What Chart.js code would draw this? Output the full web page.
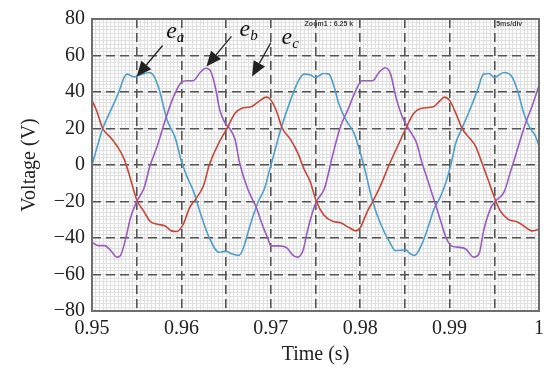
<!DOCTYPE html>
<html lang="en">
<head>
<meta charset="UTF-8">
<title>Voltage</title>
<script src="https://cdn.jsdelivr.net/npm/chart.js"></script>
<style>
  html, body { margin: 0; padding: 0; background: #fff; }
  #wrap { width: 550px; height: 370px; }
</style>
</head>
<body>
<div id="wrap"><canvas id="grafico" width="550" height="370"></canvas></div>
<script>
// e_a (azul): tiempo (s) / tension (V)
const eaTime = [0.9500,0.9507,0.9512,0.9521,0.9530,0.9536,0.9539,0.9547,0.9554,0.9564,0.9569,0.9575,0.9584,0.9593,0.9600,0.9606,0.9614,0.9621,0.9631,0.9642,0.9649,0.9656,0.9664,0.9669,0.9676,0.9682,0.9686,0.9693,0.9698,0.9704,0.9711,0.9722,0.9731,0.9737,0.9744,0.9750,0.9759,0.9765,0.9771,0.9776,0.9784,0.9793,0.9799,0.9805,0.9814,0.9823,0.9834,0.9839,0.9851,0.9856,0.9861,0.9869,0.9876,0.9883,0.9889,0.9896,0.9902,0.9907,0.9914,0.9924,0.9931,0.9938,0.9944,0.9950,0.9961,0.9969,0.9976,0.9983,0.9989,0.9996,1.0000];
const eaVolt = [0,12,20,30,40,48,49.8,48.3,49.4,50.7,49,41.7,24.7,15,2,-6,-15,-26,-39.7,-47.8,-47.2,-48.6,-49.5,-46,-34.4,-25.4,-20,-12.9,-3.9,6.8,19.3,35.4,46.2,49.8,49.4,48,50.1,49.8,42.6,33.7,24.7,17.6,8.6,-2.1,-20,-32.5,-43.3,-46.9,-46.5,-48.6,-49.5,-43.3,-34,-23.6,-18.2,-9.3,1.4,12.2,20.2,31.9,40.8,49.8,50.1,48,50.7,48.9,40.8,28.3,21.1,15.8,10.4];

// e_b (morado)
const ebTime = [0.9500,0.9507,0.9514,0.9521,0.9528,0.9532,0.9538,0.9543,0.9550,0.9558,0.9565,0.9573,0.9582,0.9591,0.9600,0.9606,0.9613,0.9621,0.9627,0.9632,0.9638,0.9643,0.9649,0.9654,0.9660,0.9665,0.9674,0.9684,0.9691,0.9697,0.9700,0.9708,0.9717,0.9725,0.9730,0.9736,0.9741,0.9746,0.9751,0.9760,0.9769,0.9778,0.9786,0.9795,0.9802,0.9814,0.9821,0.9828,0.9834,0.9840,0.9847,0.9854,0.9863,0.9869,0.9874,0.9882,0.9889,0.9896,0.9902,0.9909,0.9918,0.9927,0.9933,0.9938,0.9946,0.9951,0.9961,0.9968,0.9977,0.9985,0.9992,1.0000];
const ebVolt = [-42.4,-44.2,-44.2,-46.9,-50.5,-49.5,-39.7,-29,-20,-12.9,-0.3,10.4,24.7,37.2,45.3,46.2,46.2,50.7,53,52,42.6,30,22.9,20,14,1.4,-12.9,-23.6,-33.4,-40.6,-44.3,-44.3,-45.1,-49.5,-50.5,-46.9,-36.1,-27,-20,-12.9,5,21.1,30,40.8,46.2,46.2,50.7,53.3,49.8,37.2,26.5,20,12.2,1.4,-6,-18.2,-29,-39.7,-44.3,-45,-46,-50.5,-48.6,-36.1,-23.6,-20,-14.7,-3.9,10.4,22.9,31.9,43.5];

// e_c (rojo)
const ecTime = [0.9500,0.9505,0.9512,0.9521,0.9528,0.9536,0.9543,0.9550,0.9558,0.9565,0.9573,0.9582,0.9589,0.9595,0.9602,0.9609,0.9617,0.9625,0.9631,0.9642,0.9651,0.9660,0.9667,0.9678,0.9686,0.9695,0.9699,0.9706,0.9713,0.9722,0.9730,0.9737,0.9744,0.9751,0.9759,0.9769,0.9778,0.9788,0.9795,0.9800,0.9808,0.9814,0.9823,0.9832,0.9842,0.9851,0.9860,0.9868,0.9882,0.9889,0.9894,0.9900,0.9907,0.9914,0.9922,0.9929,0.9936,0.9944,0.9951,0.9957,0.9966,0.9976,0.9983,0.9992,1.0000];
const ecVolt = [35.4,30,20,14.9,10.4,3.2,-7.5,-19,-25.4,-30.8,-32.5,-33.4,-36.1,-36.4,-32.5,-23.6,-18,-11,-0.3,12.2,20,28.3,31,31.9,34.6,37.2,36.3,30,20,14,6.8,-2,-9,-20,-27.2,-30.8,-31.7,-34.4,-36.1,-34.4,-25.4,-20,-11,-0.3,10.4,20,28.3,31,31.9,35.1,37.2,35.4,28.3,20,14.9,10.4,1.4,-9.3,-19,-25.4,-29.9,-31.2,-33.4,-36.1,-35.2];

const xTicks = [0.95,0.955,0.96,0.965,0.97,0.975,0.98,0.985,0.99,0.995,1];
const xLabels = ['0.95','','0.96','','0.97','','0.98','','0.99','','1'];
const yTicks = [-80,-60,-40,-20,0,20,40,60,80];
const yLabels = ['\u221280','\u221260','\u221240','\u221220','0','20','40','60','80'];

// rejilla fina del osciloscopio
const minorX = [];
for (let i = 0; i <= 120; i++) minorX.push(0.95 + i * 0.05 / 120);
const minorY = [];
for (let v = -80; v <= 80; v += 2) minorY.push(v);

// flechas y etiquetas (en unidades de los ejes)
const flechas = [
  { name: 'a', tx: 0.9583, ty: 69.5, x0: 0.9579, y0: 65.5, x1: 0.9550, y1: 48.5 },
  { name: 'b', tx: 0.9665, ty: 70.5, x0: 0.9656, y0: 70.5, x1: 0.9628, y1: 54 },
  { name: 'c', tx: 0.9712, ty: 66.5, x0: 0.9700, y0: 67, x1: 0.9679, y1: 48.5 }
];

const serif = 'Liberation Serif';

function punto(chart, t, v) {
  return [chart.scales.x.getPixelForValue(t), chart.scales.y.getPixelForValue(v)];
}

const extras = {
  id: 'extras',
  afterDatasetsDraw(chart) {
    const ctx = chart.ctx;
    const a = chart.chartArea;
    ctx.save();
    ctx.strokeStyle = '#6e6e6e';
    ctx.lineWidth = 2;
    ctx.strokeRect(a.left, a.top, a.right - a.left, a.bottom - a.top);

    // textos del osciloscopio
    ctx.fillStyle = '#444';
    ctx.font = 'bold 7px "Liberation Sans"';
    ctx.textAlign = 'center';
    ctx.textBaseline = 'middle';
    let p = punto(chart, 0.9765, 77.5);
    ctx.fillText('Zoom1 : 6.25 k', p[0], p[1]);
    p = punto(chart, 0.99667, 77.5);
    ctx.fillText('5ms/div', p[0], p[1]);

    // flechas
    flechas.forEach(f => {
      const [x0, y0] = punto(chart, f.x0, f.y0);
      const [x1, y1] = punto(chart, f.x1, f.y1);
      const ang = Math.atan2(y1 - y0, x1 - x0);
      const L = 15, W = 6.5;
      const bx = x1 - L * Math.cos(ang), by = y1 - L * Math.sin(ang);
      ctx.strokeStyle = '#222';
      ctx.fillStyle = '#222';
      ctx.lineWidth = 1.3;
      ctx.beginPath();
      ctx.moveTo(x0, y0);
      ctx.lineTo(bx, by);
      ctx.stroke();
      ctx.beginPath();
      ctx.moveTo(x1, y1);
      ctx.lineTo(bx + W * Math.sin(ang), by - W * Math.cos(ang));
      ctx.lineTo(bx - W * Math.sin(ang), by + W * Math.cos(ang));
      ctx.closePath();
      ctx.fill();

      const [lx, ly] = punto(chart, f.tx, f.ty);
      ctx.textAlign = 'left';
      ctx.textBaseline = 'alphabetic';
      ctx.fillStyle = '#111';
      ctx.font = 'italic 24px "' + serif + '"';
      ctx.fillText('e', lx, ly);
      const w = ctx.measureText('e').width;
      ctx.font = 'italic 15px "' + serif + '"';
      ctx.fillText(f.name, lx + w, ly + 4);
    });
    ctx.restore();
  }
};

const ctx = document.getElementById('grafico').getContext('2d');

function serie(ts, vs, color) {
  return {
    data: ts.map((t, i) => ({ x: t, y: vs[i] })),
    borderColor: color,
    borderWidth: 1.6,
    pointRadius: 0,
    fill: false,
    cubicInterpolationMode: 'monotone'
  };
}

new Chart(ctx, {
  type: 'line',
  data: {
    datasets: [
      serie(ecTime, ecVolt, '#c4473a'),
      serie(ebTime, ebVolt, '#9a5cc0'),
      serie(eaTime, eaVolt, '#4e9fcc')
    ]
  },
  options: {
    responsive: false,
    animation: false,
    layout: { padding: { top: 14, right: 7, left: 0, bottom: 0 } },
    plugins: { legend: { display: false }, tooltip: { enabled: false } },
    scales: {
      xm: {
        type: 'linear', position: 'bottom', min: 0.95, max: 1, z: -1,
        afterBuildTicks: s => { s.ticks = minorX.map(v => ({ value: v })); },
        ticks: { display: false },
        grid: { color: '#e0e0e0', lineWidth: 1, drawTicks: false },
        border: { display: false },
        afterFit: s => { s.height = 0; }
      },
      ym: {
        type: 'linear', position: 'left', min: -80, max: 80, z: -1,
        afterBuildTicks: s => { s.ticks = minorY.map(v => ({ value: v })); },
        ticks: { display: false },
        grid: { color: '#e0e0e0', lineWidth: 1, drawTicks: false },
        border: { display: false },
        afterFit: s => { s.width = 0; }
      },
      x: {
        type: 'linear', position: 'bottom', min: 0.95, max: 1,
        afterBuildTicks: s => { s.ticks = xTicks.map(v => ({ value: v })); },
        ticks: {
          callback: (v, i) => xLabels[i],
          autoSkip: false, maxRotation: 0, padding: 6,
          color: '#222', font: { family: serif, size: 20 }
        },
        grid: { color: '#555', lineWidth: 1.6, drawTicks: false },
        border: { display: false, dash: [9, 5] },
        title: {
          display: true, text: 'Time (s)', color: '#222',
          font: { family: serif, size: 20 }, padding: { top: 0, bottom: 3 }
        },
        afterFit: s => { s.height = 59; }
      },
      y: {
        type: 'linear', position: 'left', min: -80, max: 80,
        afterBuildTicks: s => { s.ticks = yTicks.map(v => ({ value: v })); },
        ticks: {
          callback: (v, i) => yLabels[i],
          padding: 7, color: '#222', font: { family: serif, size: 20 }
        },
        grid: { color: '#555', lineWidth: 1.6, drawTicks: false },
        border: { display: false, dash: [9, 5] },
        title: {
          display: true, text: 'Voltage (V)', color: '#222',
          font: { family: serif, size: 20 }, padding: { top: 18, bottom: 0 }
        },
        afterFit: s => { s.width = 92; }
      }
    }
  },
  plugins: [extras]
});
</script>
</body>
</html>
